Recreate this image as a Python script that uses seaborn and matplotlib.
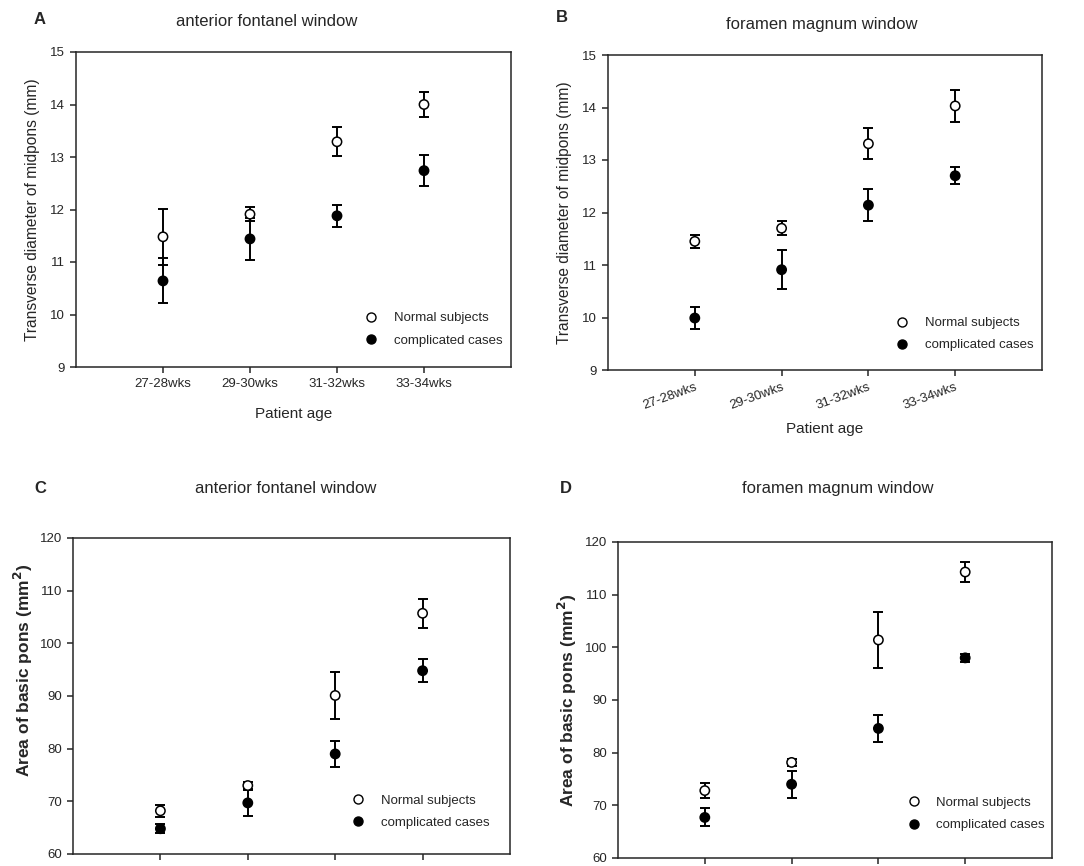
import matplotlib
matplotlib.use("Agg")
import matplotlib.pyplot as plt
import seaborn as sns
import pandas as pd
import numpy as np
from matplotlib.lines import Line2D

ages = ["27-28wks", "29-30wks", "31-32wks", "33-34wks"]
groups = ["Normal subjects", "complicated cases"]

# panel A: transverse diameter, anterior fontanel window
a_normal = [11.48, 11.91, 13.29, 14.00]
a_normal_err = [0.53, 0.13, 0.28, 0.23]
a_compl = [10.64, 11.44, 11.88, 12.74]
a_compl_err = [0.43, 0.40, 0.21, 0.29]

# panel B: transverse diameter, foramen magnum window
b_normal = [11.45, 11.70, 13.31, 14.03]
b_normal_err = [0.13, 0.13, 0.30, 0.31]
b_compl = [9.99, 10.91, 12.14, 12.70]
b_compl_err = [0.21, 0.37, 0.31, 0.16]

# panel C: area of basic pons, anterior fontanel window
c_normal = [68.2, 73.0, 90.1, 105.7]
c_normal_err = [1.1, 0.75, 4.45, 2.7]
c_compl = [64.8, 69.7, 79.0, 94.8]
c_compl_err = [0.9, 2.5, 2.55, 2.2]

# panel D: area of basic pons, foramen magnum window
d_normal = [72.8, 78.15, 101.4, 114.3]
d_normal_err = [1.45, 0.65, 5.25, 1.95]
d_compl = [67.7, 74.0, 84.6, 98.0]
d_compl_err = [1.7, 2.6, 2.6, 0.7]

sns.set_style("ticks")
plt.rcParams["font.family"] = ["Liberation Sans", "DejaVu Sans"]
plt.rcParams["axes.linewidth"] = 1.1
plt.rcParams["xtick.major.width"] = 1.1
plt.rcParams["ytick.major.width"] = 1.1
plt.rcParams["xtick.major.size"] = 4.5
plt.rcParams["ytick.major.size"] = 4.5

W, H = 1084, 866
fig = plt.figure(figsize=(W / 100, H / 100), dpi=100)


def px_axes(x0, y0, x1, y1):
    return fig.add_axes([x0 / W, 1 - y1 / H, (x1 - x0) / W, (y1 - y0) / H])


def draw_panel(ax, normal, normal_err, compl, compl_err, ylim, yticks, leg_xy):
    pos = np.arange(1, len(ages) + 1)
    df = pd.DataFrame({
        "pos": np.concatenate([pos, pos]),
        "mean": normal + compl,
        "err": normal_err + compl_err,
        "group": [groups[0]] * len(ages) + [groups[1]] * len(ages),
    })
    for g in groups:
        sub = df[df["group"] == g]
        ax.errorbar(sub["pos"], sub["mean"], yerr=sub["err"], fmt="none",
                    ecolor="black", elinewidth=1.4, capsize=3.6, capthick=1.4,
                    zorder=2)
    sns.scatterplot(data=df, x="pos", y="mean", hue="group",
                    palette={groups[0]: "white", groups[1]: "black"},
                    edgecolor="black", linewidth=1.1, s=45, ax=ax,
                    legend=False, zorder=3)
    ax.set_xlim(0, 5)
    ax.set_ylim(*ylim)
    ax.set_yticks(yticks)
    ax.set_xticks(pos)
    ax.set_xlabel("")
    ax.set_ylabel("")
    ax.tick_params(labelsize=9.5, direction="out")
    handles = [
        Line2D([], [], marker="o", linestyle="none", markersize=6.5,
               markerfacecolor="white", markeredgecolor="black"),
        Line2D([], [], marker="o", linestyle="none", markersize=6.5,
               markerfacecolor="black", markeredgecolor="black"),
    ]
    ax.legend(handles, groups, loc="lower left", bbox_to_anchor=leg_xy,
              frameon=False, fontsize=9.5, handlelength=1.0,
              handletextpad=1.2, labelspacing=0.75, borderpad=0,
              borderaxespad=0)


axA = px_axes(76, 52, 511, 367)
draw_panel(axA, a_normal, a_normal_err, a_compl, a_compl_err,
           (9, 15), range(9, 16), (0.664, 0.065))
axA.set_xticklabels(ages)
axA.set_xlabel("Patient age", fontsize=11, labelpad=12)
axA.set_ylabel("Transverse diameter of midpons (mm)", fontsize=11.2,
               labelpad=7)

axB = px_axes(608, 55, 1042, 370)
draw_panel(axB, b_normal, b_normal_err, b_compl, b_compl_err,
           (9, 15), range(9, 16), (0.663, 0.059))
axB.set_xticklabels(ages, rotation=20, ha="right", rotation_mode="anchor")
axB.set_xlabel("Patient age", fontsize=11, labelpad=7)
axB.set_ylabel("Transverse diameter of midpons (mm)", fontsize=11.2,
               labelpad=7)

axC = px_axes(73, 538, 510, 854)
draw_panel(axC, c_normal, c_normal_err, c_compl, c_compl_err,
           (60, 120), range(60, 121, 10), (0.638, 0.080))
axC.tick_params(labelbottom=False)
axC.set_ylabel("Area of basic pons (mm$^\\mathbf{2}$)", fontsize=12.5,
               fontweight="bold")
axC.yaxis.set_label_coords(-0.088, 0.58)

axD = px_axes(618, 542, 1052, 858)
draw_panel(axD, d_normal, d_normal_err, d_compl, d_compl_err,
           (60, 120), range(60, 121, 10), (0.666, 0.085))
axD.tick_params(labelbottom=False)
axD.set_ylabel("Area of basic pons (mm$^\\mathbf{2}$)", fontsize=12.5,
               fontweight="bold", labelpad=4)

# panel titles and letters
fig.text(267 / W, 1 - 22 / H, "anterior fontanel window", fontsize=12,
         ha="center", va="center")
fig.text(822 / W, 1 - 25 / H, "foramen magnum window", fontsize=12,
         ha="center", va="center")
fig.text(286 / W, 1 - 488 / H, "anterior fontanel window", fontsize=12,
         ha="center", va="center")
fig.text(838 / W, 1 - 489 / H, "foramen magnum window", fontsize=12,
         ha="center", va="center")
fig.text(40 / W, 1 - 20 / H, "A", fontsize=12, fontweight="bold",
         ha="center", va="center")
fig.text(562 / W, 1 - 18 / H, "B", fontsize=12, fontweight="bold",
         ha="center", va="center")
fig.text(40 / W, 1 - 488 / H, "C", fontsize=12, fontweight="bold",
         ha="center", va="center")
fig.text(566 / W, 1 - 488 / H, "D", fontsize=12, fontweight="bold",
         ha="center", va="center")

fig.savefig("out.png", dpi=100)
